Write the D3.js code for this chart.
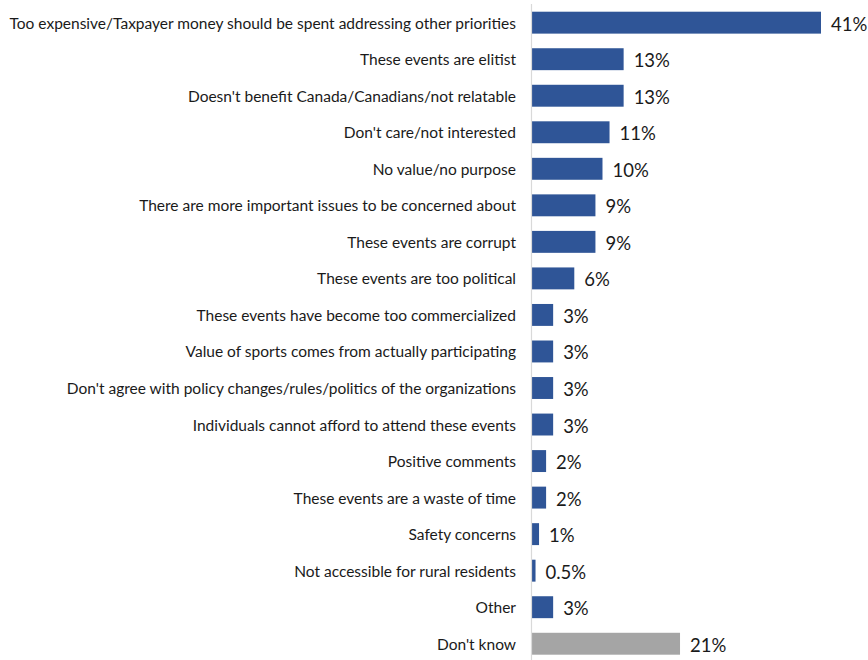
<!DOCTYPE html>
<html>
<head>
<meta charset="utf-8">
<script src="https://cdn.jsdelivr.net/npm/d3@7"></script>
<style>
  html, body { margin: 0; padding: 0; background: #fff; }
  svg { display: block; }
</style>
</head>
<body>
<svg id="chart" width="868" height="660"></svg>
<script>
// Reasons given for opposing public spending on major sporting events
const categories = [
  "Too expensive/Taxpayer money should be spent addressing other priorities",
  "These events are elitist",
  "Doesn't benefit Canada/Canadians/not relatable",
  "Don't care/not interested",
  "No value/no purpose",
  "There are more important issues to be concerned about",
  "These events are corrupt",
  "These events are too political",
  "These events have become too commercialized",
  "Value of sports comes from actually participating",
  "Don't agree with policy changes/rules/politics of the organizations",
  "Individuals cannot afford to attend these events",
  "Positive comments",
  "These events are a waste of time",
  "Safety concerns",
  "Not accessible for rural residents",
  "Other",
  "Don't know"
];
const values = [41, 13, 13, 11, 10, 9, 9, 6, 3, 3, 3, 3, 2, 2, 1, 0.5, 3, 21];
const valueLabels = ["41%", "13%", "13%", "11%", "10%", "9%", "9%", "6%", "3%", "3%", "3%", "3%", "2%", "2%", "1%", "0.5%", "3%", "21%"];

const svg = d3.select("#chart");
const fontFamily = "Lato, 'Open Sans', sans-serif";
const axisX = 532;

const x = d3.scaleLinear().domain([0, 41]).range([axisX, 821]);
const y = d3.scaleBand()
  .domain(categories)
  .range([4.4, 662])
  .paddingInner(0.4)
  .paddingOuter(0.2);

// Category labels, sized so the longest one fits the left column
const labelG = svg.append("g");
const labels = labelG.selectAll("text")
  .data(categories)
  .join("text")
  .attr("x", 516)
  .attr("y", d => y(d) + y.bandwidth() / 2)
  .attr("text-anchor", "end")
  .attr("dominant-baseline", "central")
  .attr("fill", "#1a1a1a")
  .style("font-family", fontFamily)
  .style("font-size", "15px")
  .text(d => d);

let maxW = 0;
labels.each(function () { maxW = Math.max(maxW, this.getComputedTextLength()); });
const fitSize = 15 * 507 / maxW;
labels.style("font-size", fitSize + "px");

// Bars
svg.append("g")
  .selectAll("rect")
  .data(categories)
  .join("rect")
  .attr("x", axisX)
  .attr("y", d => y(d))
  .attr("width", (d, i) => x(values[i]) - axisX)
  .attr("height", y.bandwidth())
  .attr("fill", d => d === "Don't know" ? "#a5a5a5" : "#2f5597");

// Vertical axis line
svg.append("line")
  .attr("x1", axisX - 0.5).attr("x2", axisX - 0.5)
  .attr("y1", 4).attr("y2", 660)
  .attr("stroke", "#d9d9d9")
  .attr("stroke-width", 1.2);

// Value labels
svg.append("g")
  .selectAll("text")
  .data(categories)
  .join("text")
  .attr("x", (d, i) => x(values[i]) + 10)
  .attr("y", d => y(d) + y.bandwidth() / 2 + 1)
  .attr("dominant-baseline", "central")
  .attr("fill", "#1a1a1a")
  .style("font-family", fontFamily)
  .style("font-size", "18.5px")
  .text((d, i) => valueLabels[i]);
</script>
</body>
</html>
